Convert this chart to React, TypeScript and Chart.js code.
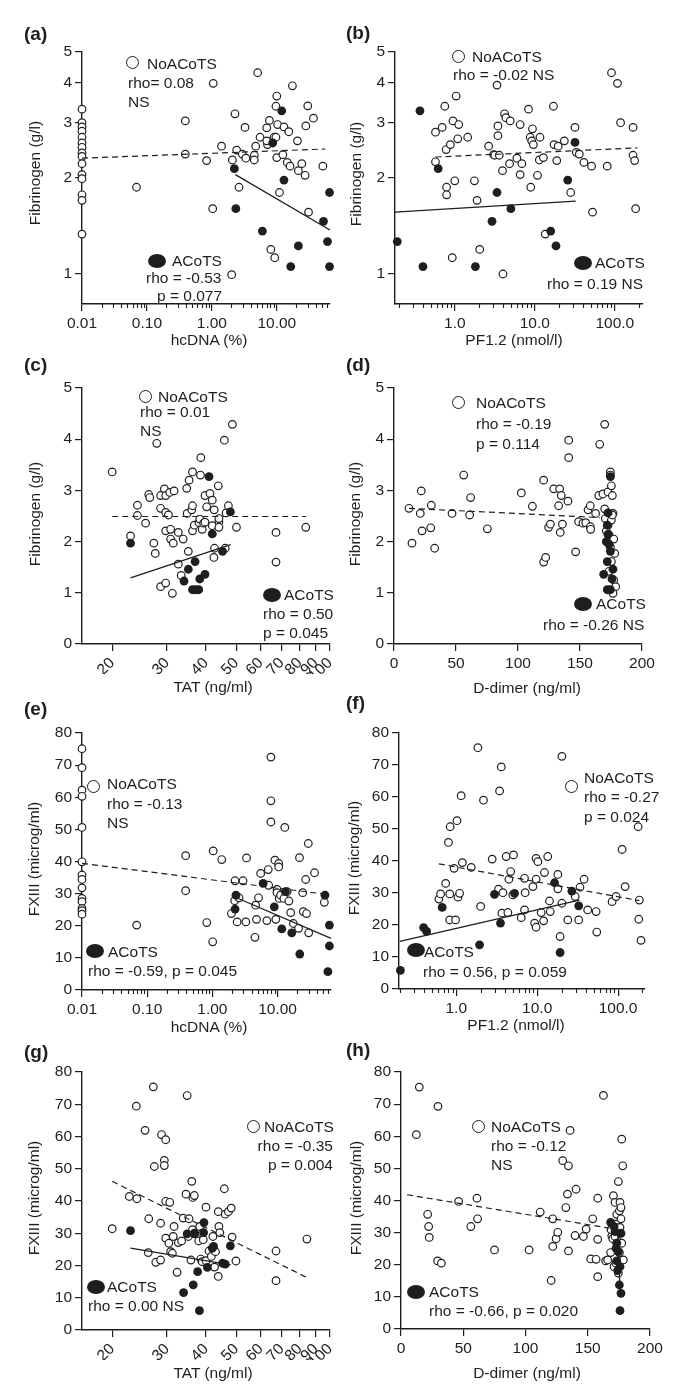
import React, { useEffect, useRef } from "react";
import { Chart, registerables } from "chart.js";

Chart.register(...registerables);

const FONT = '"Liberation Sans", Arial, Helvetica, sans-serif';
const INK = "#1e1e1e";

// ---------- tick values / labels ----------
const fibLogTicks = [1, 2, 3, 4, 5];
const fibLinTicks = [0, 1, 2, 3, 4, 5];
const fxTicks = [0, 10, 20, 30, 40, 50, 60, 70, 80];
const hcTicks = [0.01, 0.1, 1, 10];
const hcTickLabels = ["0.01", "0.10", "1.00", "10.00"];
const hcMinor = [0.02, 0.03, 0.04, 0.05, 0.06, 0.07, 0.08, 0.09, 0.2, 0.3, 0.4, 0.5, 0.6, 0.7, 0.8, 0.9, 2, 3, 4, 5, 6, 7, 8, 9, 20, 30, 40, 50, 60];
const pfTicks = [1, 10, 100];
const pfTickLabels = ["1.0", "10.0", "100.0"];
const pfMinor = [0.2, 0.3, 0.4, 0.5, 0.6, 0.7, 0.8, 0.9, 2, 3, 4, 5, 6, 7, 8, 9, 20, 30, 40, 50, 60, 70, 80, 90, 200];
const tatTicks = [20, 30, 40, 50, 60, 70, 80, 90, 100];
const ddTicks = [0, 50, 100, 150, 200];

// ---------- (a) hcDNA vs fibrinogen ----------
const aOpen = [
  [0.01, 3.3], [0.01, 2.99], [0.01, 2.9], [0.01, 2.81], [0.01, 2.69], [0.01, 2.58], [0.01, 2.5], [0.01, 2.4], [0.01, 2.34], [0.01, 2.22], [0.01, 2.05], [0.01, 1.99], [0.01, 1.77], [0.01, 1.7], [0.01, 1.33],
  [0.069, 1.87], [0.39, 3.03], [0.39, 2.38], [0.83, 2.27], [1.05, 3.98], [1.03, 1.6], [1.41, 2.52], [2.07, 2.28], [2.02, 0.99], [2.27, 3.19], [2.41, 2.45], [2.62, 1.87], [2.94, 2.38], [3.24, 2.89], [3.34, 2.31], [4.51, 2.36], [4.5, 2.28], [4.73, 2.52], [5.08, 4.3], [5.52, 2.69], [7.0, 2.88], [7.7, 3.04], [7.2, 2.55], [7.0, 2.62], [8.1, 1.19], [9.1, 2.69], [9.7, 2.69], [9.3, 1.12], [9.7, 3.37], [10.0, 3.63], [10.3, 2.95], [10.0, 2.32], [11.0, 1.8], [12.4, 2.37], [12.9, 2.9], [15.3, 2.8], [14.5, 2.24], [16.0, 2.18], [17.4, 3.91], [20.8, 2.62], [21.5, 2.11], [24.3, 2.22], [27.3, 2.04], [28.0, 2.92], [30.8, 1.56], [30.0, 3.38], [36.7, 3.09], [51.2, 2.18],
];
const aFilled = [[2.22, 2.14], [2.34, 1.6], [6.0, 1.36], [8.65, 2.58], [11.9, 3.26], [12.9, 1.97], [16.4, 1.05], [21.5, 1.22], [52.4, 1.46], [60.4, 1.26], [64.9, 1.8], [64.9, 1.05]];
const aOpenFit = [[0.01, 2.31], [55.6, 2.47]];
const aFilledFit = [[2.3, 2.05], [66, 1.37]];

// ---------- (b) PF1.2 vs fibrinogen ----------
const bOpen = [
  [0.574, 2.79], [0.574, 2.25], [0.695, 2.89], [0.75, 3.37], [0.78, 2.46], [0.79, 1.87], [0.79, 1.77], [0.88, 2.55], [0.95, 3.03], [1.0, 1.96], [1.04, 3.63], [1.12, 2.95], [1.09, 2.66], [0.93, 1.12], [1.45, 2.69], [1.76, 1.96], [1.9, 1.7], [2.05, 1.19], [2.65, 2.52], [3.06, 2.37], [3.15, 2.36], [3.37, 3.93], [3.46, 2.92], [3.46, 2.72], [3.6, 2.36], [4.0, 0.995], [3.95, 2.11], [4.19, 3.19], [4.35, 3.1], [4.93, 3.03], [4.84, 2.22], [5.97, 2.31], [6.56, 2.95], [6.56, 2.05], [6.89, 2.22], [8.34, 3.3], [8.75, 2.69], [9.35, 2.86], [9.15, 2.62], [9.6, 2.55], [8.9, 1.87], [10.8, 2.04], [11.6, 2.69], [11.4, 2.28], [12.8, 2.32], [13.5, 1.33], [17.1, 3.37], [17.4, 2.55], [18.8, 2.27], [19.6, 2.52], [23.4, 2.62], [28.1, 1.8], [31.8, 2.89], [33.0, 2.41], [36.0, 2.38], [41.1, 2.24], [51.2, 2.18], [52.7, 1.56], [80.3, 2.18], [90.9, 4.3], [108, 3.98], [118, 2.99], [169, 2.89], [169, 2.36], [177, 2.27], [182, 1.6],
];
const bFilled = [[0.191, 1.26], [0.367, 3.26], [0.4, 1.05], [0.62, 2.14], [1.81, 1.05], [2.92, 1.46], [3.37, 1.8], [5.02, 1.6], [15.8, 1.36], [18.4, 1.22], [25.8, 1.97], [31.8, 2.59]];
const bOpenFit = [[0.574, 2.33], [191, 2.49]];
const bFilledFit = [[0.179, 1.56], [32.4, 1.69]];

// ---------- (c) TAT vs fibrinogen ----------
const cOpen = [
  [20, 3.36], [22.9, 2.11], [24.1, 2.71], [24.1, 2.51], [25.6, 2.36], [26.2, 2.92], [26.4, 2.86], [27.2, 1.97], [27.5, 1.77], [27.8, 3.92], [28.6, 2.65], [28.6, 1.12], [28.6, 2.9], [29.4, 3.03], [29.7, 2.9], [29.7, 2.57], [30.3, 2.52], [29.7, 2.21], [29.7, 1.19], [30.6, 2.96], [30.8, 2.24], [30.8, 2.05], [31.4, 1.97], [31.6, 2.99], [31.2, 0.99], [32.6, 2.18], [32.6, 1.56], [33.3, 1.34], [33.8, 2.05], [34.7, 3.04], [34.8, 2.55], [35.1, 1.81], [35.3, 3.2], [36.0, 2.62], [36.2, 3.36], [36.2, 2.7], [36.2, 2.21], [36.7, 2.32], [38.0, 2.37], [38.2, 2.44], [38.4, 3.3], [38.5, 3.64], [38.9, 2.24], [39.3, 2.36], [39.7, 2.38], [39.7, 2.9], [40.2, 2.68], [41.2, 2.94], [41.9, 2.81], [41.9, 2.31], [42.5, 2.62], [42.6, 1.87], [42.4, 1.69], [43.8, 3.09], [44.0, 2.39], [44.0, 2.28], [44.0, 2.45], [45.8, 3.98], [46.1, 1.87], [46.4, 2.56], [47.2, 2.7], [48.6, 4.29], [50.1, 2.28], [67.1, 2.18], [67.1, 1.6], [83.6, 2.28],
];
const cFilled = [[22.9, 1.97], [34.0, 1.23], [35.1, 1.46], [36.9, 1.61], [36.2, 1.06], [37.1, 1.06], [37.9, 1.06], [38.2, 1.27], [39.7, 1.36], [40.9, 3.27], [41.9, 2.15], [45.2, 1.81], [47.9, 2.58]];
const cOpenFit = [[20, 2.49], [83.8, 2.49]];
const cFilledFit = [[22.9, 1.29], [48.0, 1.94]];

// ---------- (d) D-dimer vs fibrinogen ----------
const dOpen = [
  [12.1, 2.65], [14.5, 1.97], [22.0, 2.99], [21.2, 2.55], [22.6, 2.21], [29.6, 2.27], [30.1, 2.71], [32.8, 1.87], [46.8, 2.55], [56.2, 3.3], [61.0, 2.52], [61.8, 2.86], [75.3, 2.25], [102.7, 2.95], [111.6, 2.69], [120.7, 3.2], [120.7, 1.6], [122.3, 1.69], [124.7, 2.28], [126.1, 2.34], [128.8, 3.03], [132.8, 2.7], [133.6, 3.03], [134.9, 2.9], [135.8, 2.34], [134.1, 2.18], [140.3, 2.79], [140.9, 3.98], [140.9, 3.64], [146.5, 1.8], [148.9, 2.39], [152.4, 2.36], [154.6, 2.37], [156.5, 2.62], [158.3, 2.7], [158.3, 2.29], [158.6, 2.24], [162.6, 2.55], [165.1, 2.9], [165.9, 3.9], [168.5, 2.93], [169.9, 4.29], [169.9, 2.64], [170.4, 2.45], [171.2, 2.21], [172.6, 2.97], [172.6, 2.32], [173.4, 2.13], [174.5, 3.36], [174.5, 3.3], [175.3, 3.09], [176.1, 2.9], [176.6, 2.55], [177.2, 2.05], [178.0, 1.77], [174.5, 1.89], [175.3, 1.61], [173.4, 1.42], [177.2, 1.25], [178.8, 1.12], [176.6, 0.99], [175.3, 2.42], [176.1, 2.52],
];
const dFilled = [[174.5, 3.27], [172.6, 2.56], [172.0, 2.32], [172.6, 2.14], [171.2, 2.0], [173.4, 1.95], [174.5, 1.81], [172.0, 1.61], [176.6, 1.46], [169.1, 1.36], [175.8, 1.27], [172.0, 1.06], [174.5, 1.06]];
const dOpenFit = [[12.1, 2.65], [165.9, 2.47]];
const dFilledFit: number[][] = [];

// ---------- (e) hcDNA vs FXIII ----------
const eOpen = [
  [0.01, 75.1], [0.01, 69.2], [0.01, 62.2], [0.01, 60.3], [0.01, 50.6], [0.01, 39.9], [0.01, 35.8], [0.01, 34.4], [0.01, 31.8], [0.01, 28.5], [0.01, 27.5], [0.01, 25.4], [0.01, 24.7], [0.01, 23.6],
  [0.069, 20.2], [0.389, 41.8], [0.389, 30.9], [0.82, 21.0], [1.01, 15.0], [1.03, 43.3], [1.39, 40.6], [1.96, 23.8], [2.2, 27.8], [2.23, 34.0], [2.4, 21.2], [2.57, 28.7], [2.95, 34.0], [3.26, 21.2], [3.34, 41.1], [4.75, 22.0], [4.5, 16.4], [4.6, 26.4], [5.1, 28.7], [5.5, 36.3], [6.85, 21.6], [7.2, 37.5], [7.3, 32.6], [7.9, 72.5], [7.9, 58.9], [7.9, 52.3], [9.1, 40.4], [9.4, 22.0], [9.8, 31.3], [10.4, 39.4], [10.4, 38.3], [9.8, 30.3], [10.6, 28.5], [11.1, 29.5], [12.5, 28.5], [12.9, 50.6], [14.0, 30.6], [14.9, 27.7], [15.9, 24.1], [17.5, 20.7], [21.0, 19.2], [21.7, 41.2], [24.3, 30.3], [24.8, 24.4], [27.8, 23.8], [27.0, 34.4], [30.0, 17.8], [29.6, 45.6], [36.9, 36.5], [52.2, 27.3],
];
const eFilled = [[2.3, 29.5], [2.23, 25.2], [6.0, 33.2], [8.9, 25.9], [11.6, 19.0], [13.2, 30.6], [16.5, 17.8], [21.9, 11.2], [53.3, 29.5], [62.4, 20.2], [62.4, 13.7], [59.1, 5.7]];
const eOpenFit = [[0.01, 39.4], [55.4, 29.8]];
const eFilledFit = [[2.3, 28.8], [66, 16.1]];

// ---------- (f) PF1.2 vs FXIII ----------
const fOpen = [
  [0.61, 28.1], [0.64, 29.7], [0.74, 33.0], [0.83, 29.7], [0.83, 21.6], [0.84, 50.7], [0.8, 45.8], [0.94, 37.7], [0.98, 21.6], [1.02, 52.6], [1.05, 28.7], [1.1, 29.9], [1.15, 60.4], [1.19, 39.5], [1.53, 38.0], [2.0, 25.8], [2.17, 59.0], [1.85, 75.4], [2.78, 40.6], [3.43, 61.9], [3.33, 31.2], [3.6, 69.4], [3.66, 23.7], [3.77, 30.1], [4.14, 41.4], [4.34, 23.9], [4.47, 34.3], [4.7, 36.7], [5.0, 29.4], [5.1, 41.9], [6.35, 22.3], [6.97, 34.6], [6.97, 24.7], [7.1, 30.1], [8.85, 32.0], [9.3, 20.6], [9.7, 19.3], [9.7, 40.8], [10.2, 39.8], [9.7, 34.3], [11.2, 23.9], [12.0, 21.3], [12.3, 36.4], [13.5, 41.4], [14.2, 27.5], [14.5, 24.2], [18.0, 35.8], [18.0, 31.3], [19.2, 16.4], [20.2, 26.8], [20.2, 72.7], [23.9, 21.6], [29.5, 28.9], [32.6, 21.6], [33.8, 31.8], [38.0, 34.3], [42.1, 24.7], [53.5, 24.2], [54.5, 17.8], [84.3, 27.3], [94.4, 28.9], [112, 43.6], [122, 32.0], [177, 50.7], [180, 21.8], [183, 27.8], [192, 15.2],
];
const fFilled = [[0.204, 5.8], [0.395, 19.2], [0.43, 18.0], [0.67, 25.5], [1.94, 13.8], [2.97, 29.6], [3.52, 20.6], [5.25, 29.9], [16.4, 33.2], [19.2, 11.4], [26.8, 30.6], [32.6, 26.0]];
const fOpenFit = [[0.61, 39.1], [183, 27.6]];
const fFilledFit = [[0.2, 14.9], [33.3, 27.8]];

// ---------- (g) TAT vs FXIII ----------
const gOpen = [
  [20, 31.4], [22.7, 41.4], [24.0, 40.7], [23.9, 69.4], [25.5, 61.9], [26.2, 34.5], [27.1, 75.4], [27.3, 50.7], [26.1, 24.0], [27.6, 21.0], [28.6, 21.7], [28.6, 33.1], [28.8, 60.6], [29.4, 52.6], [29.4, 51.0], [29.7, 59.0], [29.7, 39.9], [29.7, 28.5], [30.6, 39.6], [30.4, 26.9], [30.8, 24.3], [31.2, 23.8], [31.6, 32.1], [31.4, 29.0], [32.3, 17.9], [32.6, 27.1], [33.4, 27.6], [33.8, 34.7], [34.5, 42.1], [34.8, 72.7], [35.1, 29.0], [35.3, 34.5], [35.8, 21.7], [36.0, 46.1], [36.2, 31.1], [36.3, 41.1], [36.7, 41.7], [36.7, 29.8], [37.9, 27.6], [38.2, 32.1], [38.5, 22.0], [38.9, 21.2], [38.9, 30.0], [39.2, 28.0], [40.0, 38.1], [40.0, 21.5], [40.9, 24.5], [41.6, 22.8], [42.1, 29.0], [42.6, 19.5], [42.9, 24.3], [43.8, 36.7], [43.8, 16.6], [44.0, 32.1], [44.3, 30.2], [45.8, 43.8], [46.1, 35.9], [47.2, 36.7], [48.2, 37.8], [48.5, 28.8], [49.9, 21.4], [67.1, 24.5], [67.1, 15.3], [84.3, 28.2],
];
const gFilled = [[22.9, 30.8], [33.9, 11.6], [34.8, 29.8], [36.4, 14.0], [36.7, 30.0], [37.6, 18.1], [38.1, 6.0], [39.3, 30.2], [39.4, 33.3], [40.4, 19.4], [41.9, 25.4], [42.3, 25.9], [45.2, 20.7], [46.1, 20.4], [47.9, 26.1]];
const gOpenFit = [[20, 46.1], [83.8, 16.4]];
const gFilledFit = [[22.9, 25.4], [48.0, 20.2]];

// ---------- (h) D-dimer vs FXIII ----------
const hOpen = [
  [14.7, 75.3], [12.3, 60.5], [29.7, 69.3], [21.4, 35.7], [22.2, 31.9], [22.7, 28.5], [29.4, 21.2], [32.4, 20.5], [46.3, 39.7], [56.1, 31.9], [61.0, 40.7], [61.5, 34.3], [75.1, 24.6], [102.9, 24.6], [111.8, 36.4], [120.6, 15.1], [121.9, 25.7], [121.9, 34.3], [124.6, 28.1], [125.9, 30.1], [129.9, 52.4], [132.4, 37.8], [133.7, 42.0], [134.5, 50.8], [134.5, 24.3], [135.8, 61.8], [140.6, 43.5], [139.8, 29.1], [146.5, 28.8], [148.7, 31.1], [152.4, 21.8], [154.0, 34.3], [156.7, 21.7], [158.0, 40.7], [158.0, 27.9], [158.0, 16.3], [164.4, 21.2], [162.6, 72.7], [166.0, 21.5], [168.4, 23.8], [169.3, 29.0], [168.7, 30.9], [170.1, 28.1], [170.6, 41.5], [171.1, 19.4], [171.9, 39.4], [172.7, 32.6], [173.3, 35.7], [173.8, 27.4], [174.6, 45.9], [175.4, 36.8], [175.9, 39.4], [175.9, 31.6], [176.7, 37.8], [176.7, 34.3], [177.3, 59.1], [177.3, 26.7], [178.1, 50.8], [178.6, 21.5], [175.4, 23.8], [174.6, 17.4], [172.7, 20.5], [171.9, 28.8],
];
const hFilled = [[168.4, 33.2], [171.9, 30.3], [173.3, 26.7], [172.7, 25.1], [174.6, 24.1], [173.3, 21.2], [175.9, 19.4], [174.0, 18.2], [176.7, 29.8], [175.4, 13.7], [176.7, 11.1], [175.9, 5.7], [171.1, 31.9]];
const hOpenFit = [[4.8, 41.8], [167.4, 31.4]];
const hFilledFit = [[173.7, 32.9], [175.9, 12.2]];

// ---------- panel layout ----------
type AxisSpec = { log: boolean; min: number; max: number; ticks: number[]; labels?: string[]; minor?: number[]; rot?: number };
type PanelSpec = {
  left: number; top: number; w: number; h: number;
  area: { l: number; r: number; t: number; b: number };
  x: AxisSpec; y: AxisSpec;
  open: number[][]; filled: number[][]; openFit: number[][]; filledFit: number[][];
};

const fibLogY: AxisSpec = { log: true, min: 0.8, max: 5, ticks: fibLogTicks };
const fibLinY: AxisSpec = { log: false, min: 0, max: 5, ticks: fibLinTicks };
const fxY: AxisSpec = { log: false, min: 0, max: 80, ticks: fxTicks };
const hcX: AxisSpec = { log: true, min: 0.01, max: 66, ticks: hcTicks, labels: hcTickLabels, minor: hcMinor };
const tatX: AxisSpec = { log: true, min: 16, max: 100, ticks: tatTicks, rot: 45 };
const ddX: AxisSpec = { log: false, min: 0, max: 200, ticks: ddTicks };

const panels: PanelSpec[] = [
  { left: 0, top: 0, w: 342, h: 345, area: { l: 82, r: 330, t: 52, b: 304 }, x: hcX, y: fibLogY, open: aOpen, filled: aFilled, openFit: aOpenFit, filledFit: aFilledFit },
  { left: 342, top: 0, w: 343, h: 345, area: { l: 53, r: 301, t: 52, b: 304 }, x: { log: true, min: 0.179, max: 225, ticks: pfTicks, labels: pfTickLabels, minor: pfMinor }, y: fibLogY, open: bOpen, filled: bFilled, openFit: bOpenFit, filledFit: bFilledFit },
  { left: 0, top: 345, w: 342, h: 345, area: { l: 82, r: 330, t: 43, b: 299 }, x: tatX, y: fibLinY, open: cOpen, filled: cFilled, openFit: cOpenFit, filledFit: cFilledFit },
  { left: 342, top: 345, w: 343, h: 345, area: { l: 52, r: 300, t: 43, b: 299 }, x: ddX, y: fibLinY, open: dOpen, filled: dFilled, openFit: dOpenFit, filledFit: dFilledFit },
  { left: 0, top: 690, w: 342, h: 345, area: { l: 82, r: 331, t: 43, b: 300 }, x: hcX, y: fxY, open: eOpen, filled: eFilled, openFit: eOpenFit, filledFit: eFilledFit },
  { left: 342, top: 690, w: 343, h: 345, area: { l: 57, r: 303, t: 43, b: 299 }, x: { log: true, min: 0.196, max: 215, ticks: pfTicks, labels: pfTickLabels, minor: pfMinor }, y: fxY, open: fOpen, filled: fFilled, openFit: fOpenFit, filledFit: fFilledFit },
  { left: 0, top: 1035, w: 342, h: 365, area: { l: 82, r: 330, t: 37, b: 295 }, x: tatX, y: fxY, open: gOpen, filled: gFilled, openFit: gOpenFit, filledFit: gFilledFit },
  { left: 342, top: 1035, w: 343, h: 365, area: { l: 59, r: 308, t: 37, b: 294 }, x: ddX, y: fxY, open: hOpen, filled: hFilled, openFit: hOpenFit, filledFit: hFilledFit },
];

// ---------- text overlays (page coordinates) ----------
type Txt = { t: string; x: number; y: number; right?: boolean };
type Mark = { kind: "open" | "filled"; x: number; y: number };

const panelLabels = [
  { t: "(a)", x: 24, y: 34 }, { t: "(b)", x: 346, y: 33 },
  { t: "(c)", x: 24, y: 365 }, { t: "(d)", x: 346, y: 365 },
  { t: "(e)", x: 24, y: 709 }, { t: "(f)", x: 346, y: 703 },
  { t: "(g)", x: 24, y: 1052 }, { t: "(h)", x: 346, y: 1050 },
];
const yTitles = [
  { t: "Fibrinogen (g/l)", x: 35, y: 173 }, { t: "Fibrinogen (g/l)", x: 356, y: 174 },
  { t: "Fibrinogen (g/l)", x: 35, y: 514 }, { t: "Fibrinogen (g/l)", x: 355, y: 514 },
  { t: "FXIII (microg/ml)", x: 34, y: 859 }, { t: "FXIII (microg/ml)", x: 354, y: 858 },
  { t: "FXIII (microg/ml)", x: 34, y: 1198 }, { t: "FXIII (microg/ml)", x: 356, y: 1198 },
];
const xTitles = [
  { t: "hcDNA (%)", x: 209, y: 340 }, { t: "PF1.2 (nmol/l)", x: 514, y: 340 },
  { t: "TAT (ng/ml)", x: 213, y: 687 }, { t: "D-dimer (ng/ml)", x: 527, y: 688 },
  { t: "hcDNA (%)", x: 209, y: 1027 }, { t: "PF1.2 (nmol/l)", x: 516, y: 1025 },
  { t: "TAT (ng/ml)", x: 213, y: 1373 }, { t: "D-dimer (ng/ml)", x: 527, y: 1373 },
];
const marks: Mark[] = [
  { kind: "open", x: 133, y: 63 }, { kind: "filled", x: 157, y: 261 },
  { kind: "open", x: 459, y: 57 }, { kind: "filled", x: 583, y: 263 },
  { kind: "open", x: 146, y: 397 }, { kind: "filled", x: 272, y: 595 },
  { kind: "open", x: 459, y: 403 }, { kind: "filled", x: 583, y: 604 },
  { kind: "open", x: 94, y: 787 }, { kind: "filled", x: 95, y: 951 },
  { kind: "open", x: 572, y: 787 }, { kind: "filled", x: 416, y: 950 },
  { kind: "open", x: 254, y: 1127 }, { kind: "filled", x: 96, y: 1287 },
  { kind: "open", x: 479, y: 1127 }, { kind: "filled", x: 416, y: 1292 },
];
const notes: Txt[] = [
  { t: "NoACoTS", x: 147, y: 64 }, { t: "rho= 0.08", x: 128, y: 83 }, { t: "NS", x: 128, y: 102 },
  { t: "ACoTS", x: 172, y: 261 }, { t: "rho = -0.53", x: 146, y: 278 }, { t: "p = 0.077", x: 157, y: 296 },
  { t: "NoACoTS", x: 472, y: 57 }, { t: "rho = -0.02 NS", x: 453, y: 75 },
  { t: "ACoTS", x: 595, y: 263 }, { t: "rho = 0.19 NS", x: 547, y: 284 },
  { t: "NoACoTS", x: 158, y: 397 }, { t: "rho = 0.01", x: 140, y: 412 }, { t: "NS", x: 140, y: 431 },
  { t: "ACoTS", x: 284, y: 595 }, { t: "rho = 0.50", x: 263, y: 614 }, { t: "p = 0.045", x: 263, y: 633 },
  { t: "NoACoTS", x: 476, y: 403 }, { t: "rho = -0.19", x: 476, y: 424 }, { t: "p = 0.114", x: 476, y: 444 },
  { t: "ACoTS", x: 596, y: 604 }, { t: "rho = -0.26 NS", x: 543, y: 625 },
  { t: "NoACoTS", x: 107, y: 784 }, { t: "rho = -0.13", x: 107, y: 804 }, { t: "NS", x: 107, y: 823 },
  { t: "ACoTS", x: 108, y: 952 }, { t: "rho = -0.59, p = 0.045", x: 88, y: 971 },
  { t: "NoACoTS", x: 584, y: 778 }, { t: "rho = -0.27", x: 584, y: 797 }, { t: "p = 0.024", x: 584, y: 817 },
  { t: "ACoTS", x: 424, y: 952 }, { t: "rho = 0.56, p = 0.059", x: 423, y: 972 },
  { t: "NoACoTS", x: 264, y: 1127 }, { t: "rho = -0.35", x: 333, y: 1146, right: true }, { t: "p = 0.004", x: 333, y: 1165, right: true },
  { t: "ACoTS", x: 107, y: 1287 }, { t: "rho = 0.00 NS", x: 88, y: 1306 },
  { t: "NoACoTS", x: 491, y: 1127 }, { t: "rho = -0.12", x: 491, y: 1146 }, { t: "NS", x: 491, y: 1165 },
  { t: "ACoTS", x: 429, y: 1292 }, { t: "rho = -0.66, p = 0.020", x: 429, y: 1311 },
];

// ---------- chart building ----------
const toXY = (arr: number[][]) => arr.map(([x, y]) => ({ x, y }));

function minorTickPlugin(vals: number[] | undefined) {
  return {
    id: "minorTicks",
    afterDraw(chart: any) {
      if (!vals) return;
      const s = chart.scales.x;
      const ctx = chart.ctx;
      ctx.save();
      ctx.strokeStyle = INK;
      ctx.lineWidth = 1.1;
      for (const v of vals) {
        if (v < s.min || v > s.max) continue;
        const px = Math.round(s.getPixelForValue(v)) + 0.5;
        ctx.beginPath();
        ctx.moveTo(px, s.top);
        ctx.lineTo(px, s.top + 4);
        ctx.stroke();
      }
      ctx.restore();
    },
  };
}

function axisOptions(a: AxisSpec, horizontal: boolean, size: number) {
  return {
    type: a.log ? "logarithmic" : "linear",
    position: horizontal ? "bottom" : "left",
    min: a.min,
    max: a.max,
    afterBuildTicks: (s: any) => {
      s.ticks = a.ticks.map((v) => ({ value: v }));
    },
    afterFit: (s: any) => {
      if (horizontal) s.height = size;
      else s.width = size;
      s.paddingLeft = 0;
      s.paddingRight = 0;
      s.paddingTop = 0;
      s.paddingBottom = 0;
    },
    ticks: {
      autoSkip: false,
      maxRotation: a.rot || 0,
      minRotation: a.rot || 0,
      padding: 3,
      color: INK,
      font: { family: FONT, size: 15.5 },
      callback: (v: any, i: number) => (a.labels ? a.labels[i] : String(a.ticks[i])),
    },
    grid: { drawOnChartArea: false, drawTicks: true, tickLength: 7, color: INK, lineWidth: 1.2 },
    border: { display: true, color: INK, width: 1.4 },
  };
}

function buildChart(canvas: HTMLCanvasElement, p: PanelSpec) {
  const yW = 44;
  const xH = 30;
  const padding = { left: p.area.l - yW, right: p.w - p.area.r, top: p.area.t, bottom: p.h - p.area.b - xH };
  const datasets: any[] = [];
  if (p.filledFit.length) {
    datasets.push({ label: "ACoTS fit", data: toXY(p.filledFit), showLine: true, pointRadius: 0, borderColor: INK, borderWidth: 1.3, order: 0, clip: false });
  }
  datasets.push({ label: "NoACoTS fit", data: toXY(p.openFit), showLine: true, pointRadius: 0, borderColor: INK, borderWidth: 1.2, borderDash: [6, 4], order: 0, clip: false });
  datasets.push({ label: "ACoTS", data: toXY(p.filled), pointRadius: 4.4, pointBackgroundColor: INK, pointBorderColor: INK, pointBorderWidth: 0, backgroundColor: INK, borderColor: INK, order: 1, clip: false });
  datasets.push({ label: "NoACoTS", data: toXY(p.open), pointRadius: 3.8, pointBackgroundColor: "#fff", pointBorderColor: INK, pointBorderWidth: 1.2, backgroundColor: "#fff", borderColor: INK, order: 2, clip: false });

  return new Chart(canvas, {
    type: "scatter",
    data: { datasets },
    options: {
      animation: false,
      responsive: false,
      events: [],
      layout: { padding },
      plugins: { legend: { display: false }, tooltip: { enabled: false } },
      scales: {
        x: axisOptions(p.x, true, xH) as any,
        y: axisOptions(p.y, false, yW) as any,
      },
    },
    plugins: [minorTickPlugin(p.x.minor)],
  } as any);
}

function PanelCanvas({ spec }: { spec: PanelSpec }) {
  const ref = useRef<HTMLCanvasElement>(null);
  useEffect(() => {
    const chart = buildChart(ref.current as HTMLCanvasElement, spec);
    return () => chart.destroy();
  }, [spec]);
  return (
    <canvas
      ref={ref}
      width={spec.w}
      height={spec.h}
      style={{ position: "absolute", left: spec.left, top: spec.top, width: spec.w, height: spec.h }}
    />
  );
}

const textBase: React.CSSProperties = {
  position: "absolute",
  fontFamily: FONT,
  fontSize: 15.5,
  color: INK,
  whiteSpace: "nowrap",
  lineHeight: "18px",
  height: 18,
};

export default function App() {
  return (
    <div style={{ position: "absolute", left: 0, top: 0, width: 685, height: 1400, background: "#fff", overflow: "hidden" }}>
      {panels.map((p, i) => (
        <PanelCanvas key={i} spec={p} />
      ))}
      {panelLabels.map((l, i) => (
        <div key={"pl" + i} style={{ ...textBase, left: l.x, top: l.y - 11, fontSize: 19, fontWeight: 700, lineHeight: "22px", height: 22 }}>
          {l.t}
        </div>
      ))}
      {yTitles.map((l, i) => (
        <div key={"yt" + i} style={{ ...textBase, left: l.x, top: l.y, transform: "translate(-50%, -50%) rotate(-90deg)" }}>
          {l.t}
        </div>
      ))}
      {xTitles.map((l, i) => (
        <div key={"xt" + i} style={{ ...textBase, left: l.x, top: l.y - 9, transform: "translateX(-50%)" }}>
          {l.t}
        </div>
      ))}
      {marks.map((m, i) =>
        m.kind === "open" ? (
          <div key={"mk" + i} style={{ position: "absolute", left: m.x - 6.8, top: m.y - 6.8, width: 11, height: 11, borderRadius: "50%", border: `1.3px solid ${INK}`, background: "#fff" }} />
        ) : (
          <div key={"mk" + i} style={{ position: "absolute", left: m.x - 9, top: m.y - 7, width: 18, height: 14, borderRadius: "50%", background: INK }} />
        )
      )}
      {notes.map((n, i) => (
        <div key={"nt" + i} style={{ ...textBase, left: n.x, top: n.y - 9, transform: n.right ? "translateX(-100%)" : undefined }}>
          {n.t}
        </div>
      ))}
    </div>
  );
}
